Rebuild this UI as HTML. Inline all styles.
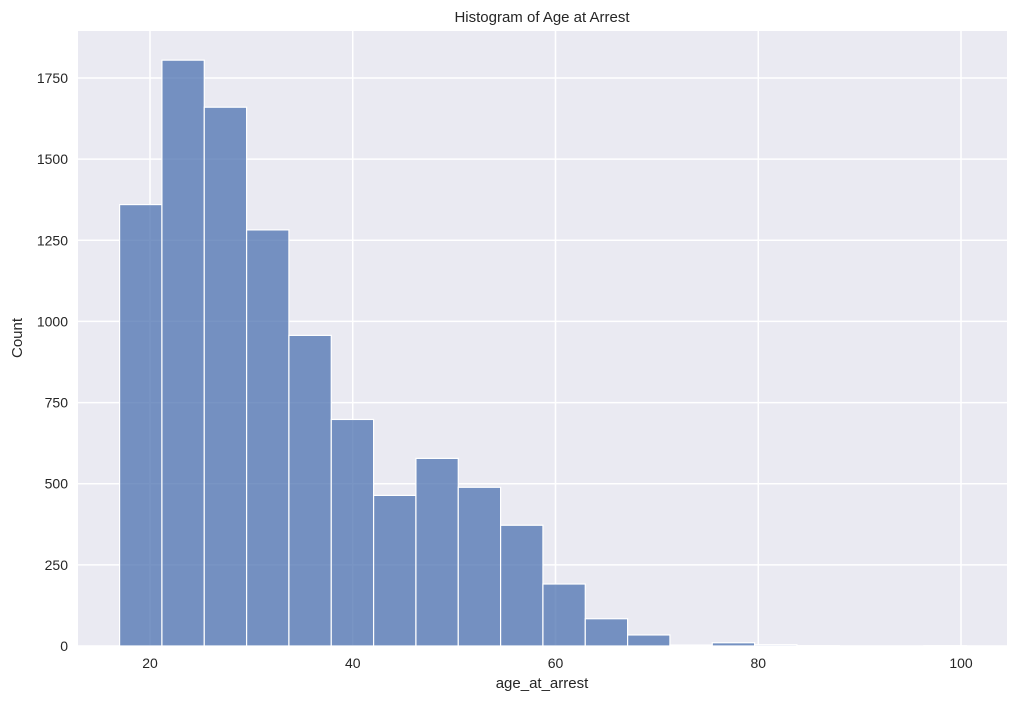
<!DOCTYPE html>
<html><head><meta charset="utf-8"><style>
body{margin:0;background:#fff;font-family:"Liberation Sans","DejaVu Sans",sans-serif;}
</style></head><body>
<svg id="chart" width="1017" height="704" xmlns="http://www.w3.org/2000/svg">
<rect x="78" y="31" width="929" height="615" fill="#eaeaf2"/>
<g id="grid"></g><g id="bars"></g><g id="ticks"></g>
<text x="542" y="22" text-anchor="middle" font-size="15" fill="#262626">Histogram of Age at Arrest</text>
<text x="542" y="688" text-anchor="middle" font-size="15" fill="#262626">age_at_arrest</text>
<text x="22" y="338" text-anchor="middle" font-size="15" fill="#262626" transform="rotate(-90 22 338)">Count</text>
</svg>
<script>
const binStart = 17.0;
const binWidth = 4.176;
const counts = [1360,1805,1660,1282,957,698,464,578,489,372,191,84,34,3,10,4,1,0,0,1];
const xTicks = [20,40,60,80,100];
const yTicks = [0,250,500,750,1000,1250,1500,1750];
const NS="http://www.w3.org/2000/svg";
const X=v=>150+(v-20)*(961-150)/80;
const Y=v=>646-v*(646-78)/1750;
const g=document.getElementById('grid'),b=document.getElementById('bars'),t=document.getElementById('ticks');
function mk(tag,attrs,parent){const e=document.createElementNS(NS,tag);for(const k in attrs)e.setAttribute(k,attrs[k]);parent.appendChild(e);return e;}
xTicks.forEach(v=>{
  const l=mk('line',{x1:X(v),x2:X(v),y1:31,y2:646,stroke:'#fff','stroke-width':1.5},g);
  
  
  const s=mk('text',{x:X(v),y:668,'text-anchor':'middle','font-size':14,fill:'#262626'},t);
  s.textContent=v;
  
  
});
yTicks.forEach(v=>{
  const l=mk('line',{x1:78,x2:1007,y1:Y(v),y2:Y(v),stroke:'#fff','stroke-width':1.5},g);
  
  
  const s=mk('text',{x:68,y:Y(v)+5,'text-anchor':'end','font-size':14,fill:'#262626'},t);
  s.textContent=v;
  
  
});
counts.forEach((c,i)=>{
  const x0=X(binStart+i*binWidth),x1=X(binStart+(i+1)*binWidth);
  const r=mk('rect',{x:x0,y:Y(c),width:x1-x0,height:646-Y(c),fill:'#4c72b0','fill-opacity':0.75,stroke:'#fff','stroke-width':1.2},b);
  
  
});
</script>
</body></html>
